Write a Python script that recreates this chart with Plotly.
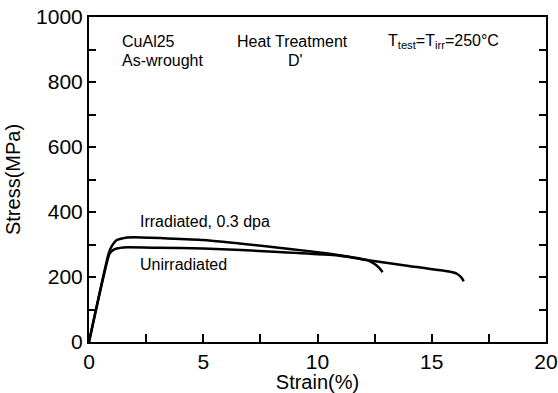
import plotly.graph_objects as go

# Tensile curves of CuAl25 (as-wrought, heat treatment D'), tested at 250 °C
strain_unirr = [0, 0.9, 1.1, 1.5, 3, 5, 8.3, 10.9, 12.3, 14, 15.8, 16.1, 16.3, 16.4]
stress_unirr = [0, 272, 285, 291, 290, 288, 277, 266, 251, 234, 216, 210, 198, 187]

strain_irr = [0, 0.85, 1.0, 1.2, 1.6, 2.0, 5, 8.3, 10.9, 12.2, 12.5, 12.7, 12.85]
stress_irr = [0, 270, 296, 313, 321, 322, 314, 290, 268, 251, 240, 228, 215]

x_ticks = [0, 2.5, 5, 7.5, 10, 12.5, 15, 17.5, 20]
x_labels = ["0", "", "5", "", "10", "", "15", "", "20"]
y_ticks = list(range(0, 1001, 100))
y_labels = [str(v) if v % 200 == 0 else "" for v in y_ticks]

font = "Liberation Sans"

fig = go.Figure()
fig.add_trace(go.Scatter(x=strain_unirr, y=stress_unirr, mode="lines",
                         line=dict(color="black", width=2.5, shape="spline", smoothing=0.4)))
fig.add_trace(go.Scatter(x=strain_irr, y=stress_irr, mode="lines",
                         line=dict(color="black", width=2.5, shape="spline", smoothing=0.4)))

ann = [
    dict(x=1.35, y=924, text="CuAl25", xanchor="left"),
    dict(x=1.35, y=866, text="As-wrought", xanchor="left"),
    dict(x=6.4, y=924, text="Heat Treatment", xanchor="left"),
    dict(x=8.6, y=866, text="D'", xanchor="left"),
    dict(x=13.0, y=924, text="T<sub>test</sub>=T<sub>irr</sub>=250°C", xanchor="left"),
    dict(x=2.15, y=372, text="Irradiated, 0.3 dpa", xanchor="left"),
    dict(x=2.15, y=237, text="Unirradiated", xanchor="left"),
]
for a in ann:
    fig.add_annotation(x=a["x"], y=a["y"], text=a["text"], xanchor=a["xanchor"],
                       yanchor="middle", showarrow=False,
                       font=dict(family=font, size=16, color="black"))

fig.update_layout(
    width=558, height=393,
    margin=dict(l=89, r=12, t=17, b=51),
    paper_bgcolor="white", plot_bgcolor="white",
    showlegend=False,
    font=dict(family=font, color="black"),
    xaxis=dict(range=[0, 20], tickvals=x_ticks, ticktext=x_labels,
               ticks="inside", ticklen=8, tickwidth=1.5, tickcolor="black",
               showline=True, linewidth=2, linecolor="black", mirror=True,
               showgrid=False, zeroline=False, automargin=False,
               ticklabeloverflow="allow",
               tickfont=dict(size=21, family=font),
               title=dict(text="Strain(%)", font=dict(size=20, family=font), standoff=2)),
    yaxis=dict(range=[0, 1000], tickvals=y_ticks, ticktext=y_labels,
               ticks="inside", ticklen=7, tickwidth=1.5, tickcolor="black",
               showline=True, linewidth=2, linecolor="black", mirror="ticks",
               showgrid=False, zeroline=False, automargin=False,
               tickfont=dict(size=21, family=font),
               title=dict(text="Stress(MPa)", font=dict(size=20, family=font), standoff=10)),
)

fig.write_html("out.html")
